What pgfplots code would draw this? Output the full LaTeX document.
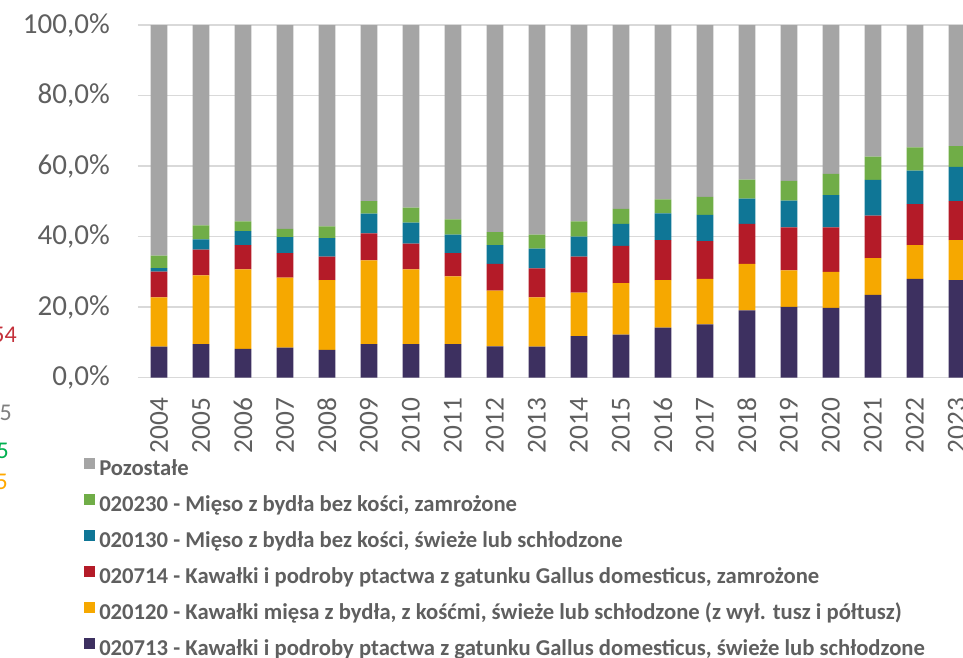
\documentclass[border=0pt]{standalone}
\usepackage{pgfplots}
\pgfplotsset{compat=1.18}
\usepackage{fontspec}
\setmainfont{Carlito}
\definecolor{cPurple}{HTML}{3D3060}
\definecolor{cOrange}{HTML}{F6A800}
\definecolor{cRed}{HTML}{B41B28}
\definecolor{cTeal}{HTML}{0F7696}
\definecolor{cGreen}{HTML}{70AD47}
\definecolor{cGray}{HTML}{A5A5A5}
\definecolor{txt}{HTML}{5F5F5F}
\definecolor{gridc}{HTML}{D9D9D9}
\begin{document}
\begin{tikzpicture}
% picture is cut like the reference: 963x657 px at 0.75pt per px
\path[use as bounding box] (0,0) rectangle (722.25pt,492.75pt);
\clip (0,0) rectangle (722.25pt,492.75pt);
\begin{axis}[
  at={(103.5pt,209.5pt)}, anchor=south west,
  scale only axis,
  width=630pt, height=264.4pt,
  ybar stacked,
  bar width=0.4,
  xmin=2003.5, xmax=2023.5,
  ymin=0, ymax=100,
  xtick={2004,...,2023},
  xticklabels={2004,2005,2006,2007,2008,2009,2010,2011,2012,2013,2014,2015,2016,2017,2018,2019,2020,2021,2022,2023},
  ytick={0,20,40,60,80,100},
  yticklabels={{0,0\%},{20,0\%},{40,0\%},{60,0\%},{80,0\%},{100,0\%}},
  axis line style={draw=none},
  major tick length=0pt,
  ymajorgrids,
  grid style={gridc, line width=1.2pt},
  yticklabel style={anchor=east, inner sep=0pt, xshift=-21pt,
    font=\fontsize{21.75}{26}\selectfont, text=txt},
  xticklabel style={rotate=90, anchor=east, inner sep=0pt,
    font=\fontsize{20.5}{24}\selectfont, text=txt},
  xticklabel shift=15pt,
  reverse legend,
  legend image code/.code={\fill[#1] (0pt,1.2pt) rectangle (8.25pt,9.45pt);},
  legend style={at={(-0.0643,-0.226)}, anchor=north west, draw=none, fill=none,
    inner sep=0pt, row sep=10.6pt, column sep=3pt,
    nodes={inner sep=0pt, text height=11pt, text depth=3pt},
    font=\fontsize{17}{20}\selectfont\bfseries, text=txt},
  legend cell align=left,
]
\addplot[fill=cPurple, draw=none] coordinates {
(2004,8.8) (2005,9.55) (2006,8.2) (2007,8.5) (2008,7.85) (2009,9.55) (2010,9.55)
(2011,9.55) (2012,8.9) (2013,8.8) (2014,11.8) (2015,12.2) (2016,14.2) (2017,15.1)
(2018,19.1) (2019,20.1) (2020,19.8) (2021,23.5) (2022,28.0) (2023,27.7)};
\addplot[fill=cOrange, draw=none] coordinates {
(2004,14.0) (2005,19.45) (2006,22.5) (2007,19.9) (2008,19.85) (2009,23.75) (2010,21.15)
(2011,19.15) (2012,15.8) (2013,14.0) (2014,12.3) (2015,14.6) (2016,13.5) (2017,12.9)
(2018,13.2) (2019,10.3) (2020,10.2) (2021,10.4) (2022,9.6) (2023,11.3)};
\addplot[fill=cRed, draw=none] coordinates {
(2004,7.3) (2005,7.3) (2006,6.9) (2007,6.9) (2008,6.6) (2009,7.6) (2010,7.3)
(2011,6.6) (2012,7.6) (2013,8.2) (2014,10.2) (2015,10.6) (2016,11.3) (2017,10.7)
(2018,11.3) (2019,12.2) (2020,12.6) (2021,12.1) (2022,11.6) (2023,11.1)};
\addplot[fill=cTeal, draw=none] coordinates {
(2004,1.0) (2005,2.9) (2006,4.0) (2007,4.6) (2008,5.3) (2009,5.6) (2010,6.0)
(2011,5.3) (2012,5.3) (2013,5.6) (2014,5.7) (2015,6.2) (2016,7.6) (2017,7.5)
(2018,7.2) (2019,7.6) (2020,9.2) (2021,10.1) (2022,9.5) (2023,9.7)};
\addplot[fill=cGreen, draw=none] coordinates {
(2004,3.5) (2005,4.0) (2006,2.7) (2007,2.3) (2008,3.3) (2009,3.6) (2010,4.2)
(2011,4.3) (2012,3.7) (2013,4.0) (2014,4.3) (2015,4.3) (2016,4.0) (2017,5.1)
(2018,5.4) (2019,5.6) (2020,6.0) (2021,6.6) (2022,6.6) (2023,5.9)};
\addplot[fill=cGray, draw=none] coordinates {
(2004,65.4) (2005,56.8) (2006,55.7) (2007,57.8) (2008,57.1) (2009,49.9) (2010,51.8)
(2011,55.1) (2012,58.7) (2013,59.4) (2014,55.7) (2015,52.1) (2016,49.4) (2017,48.7)
(2018,43.8) (2019,44.2) (2020,42.2) (2021,37.3) (2022,34.7) (2023,34.3)};
\legend{020713 - Kawałki i podroby ptactwa z gatunku Gallus domesticus{,} świeże lub schłodzone,
020120 - Kawałki mięsa z bydła{,} z kośćmi{,} świeże lub schłodzone (z wył. tusz i półtusz),
020714 - Kawałki i podroby ptactwa z gatunku Gallus domesticus{,} zamrożone,
020130 - Mięso z bydła bez kości{,} świeże lub schłodzone,
020230 - Mięso z bydła bez kości{,} zamrożone,
Pozostałe}
\end{axis}
% cut-off text at the left edge of the reference
\node[anchor=base east, inner sep=0pt, text={rgb,255:red,196;green,48;blue,58},
  font=\fontsize{18}{20}\selectfont] at (12.75pt,235.5pt) {54};
\node[anchor=base east, inner sep=0pt, text={rgb,255:red,127;green,127;blue,127},
  font=\fontsize{18}{20}\selectfont] at (9pt,177pt) {5};
\node[anchor=base east, inner sep=0pt, text={rgb,255:red,0;green,176;blue,80},
  font=\fontsize{18}{20}\selectfont] at (6.75pt,149pt) {5};
\node[anchor=base east, inner sep=0pt, text={rgb,255:red,255;green,168;blue,0},
  font=\fontsize{18}{20}\selectfont] at (6pt,126pt) {5};
\end{tikzpicture}
\end{document}
